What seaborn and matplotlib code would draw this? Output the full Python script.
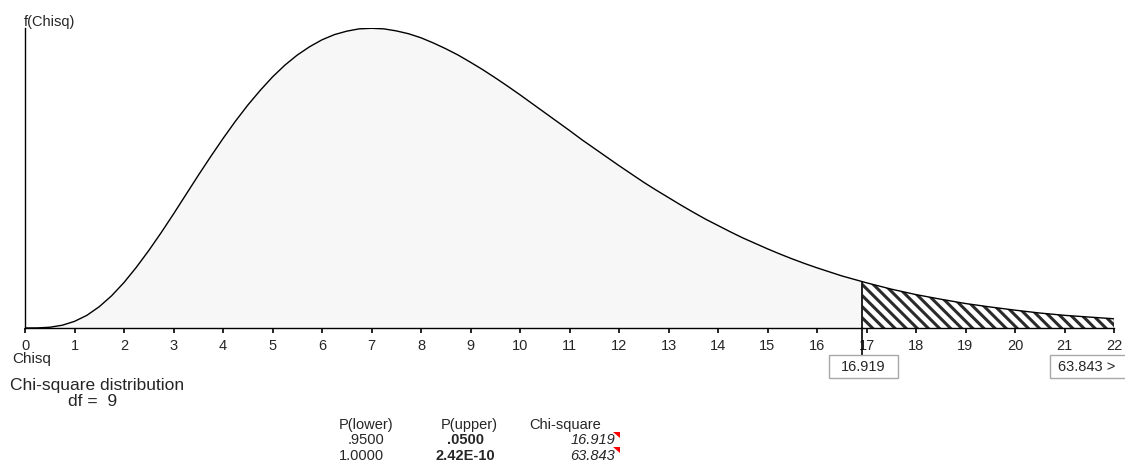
import matplotlib
matplotlib.use("Agg")
import matplotlib.pyplot as plt
import matplotlib.transforms as mtransforms
from matplotlib.patches import Polygon, Rectangle
import seaborn as sns
import pandas as pd

# chi-square curve (df = 9): every 0.25 up to 17, then every 0.5
chisq = [0.0, 0.25, 0.5, 0.75, 1.0, 1.25, 1.5, 1.75, 2.0, 2.25, 2.5, 2.75,
         3.0, 3.25, 3.5, 3.75, 4.0, 4.25, 4.5, 4.75, 5.0, 5.25, 5.5, 5.75,
         6.0, 6.25, 6.5, 6.75, 7.0, 7.25, 7.5, 7.75, 8.0, 8.25, 8.5, 8.75,
         9.0, 9.25, 9.5, 9.75, 10.0, 10.25, 10.5, 10.75, 11.0, 11.25, 11.5,
         11.75, 12.0, 12.25, 12.5, 12.75, 13.0, 13.25, 13.5, 13.75, 14.0,
         14.25, 14.5, 14.75, 15.0, 15.25, 15.5, 15.75, 16.0, 16.25, 16.5,
         16.75, 17.0, 17.5, 18.0, 18.5, 19.0, 19.5, 20.0, 20.5, 21.0, 21.5, 22.0]
density = [0.0, 0.00003, 0.00026, 0.00095, 0.0023, 0.0044, 0.0074, 0.0112,
           0.0158, 0.0211, 0.0269, 0.0331, 0.0396, 0.0463, 0.0530, 0.0595,
           0.0658, 0.0718, 0.0774, 0.0825, 0.0872, 0.0913, 0.0948, 0.0977,
           0.1001, 0.1019, 0.1031, 0.1039, 0.1041, 0.1039, 0.1032, 0.1022,
           0.1008, 0.0990, 0.0970, 0.0948, 0.0923, 0.0897, 0.0869, 0.0840,
           0.0810, 0.0779, 0.0748, 0.0717, 0.0686, 0.0654, 0.0624, 0.0594,
           0.0564, 0.0535, 0.0506, 0.0479, 0.0453, 0.0427, 0.0402, 0.0378,
           0.0356, 0.0334, 0.0313, 0.0294, 0.0275, 0.0257, 0.0240, 0.0224,
           0.0209, 0.0195, 0.0181, 0.0169, 0.0157, 0.0135, 0.0116, 0.0100,
           0.0085, 0.0073, 0.0062, 0.0052, 0.0044, 0.0038, 0.0032]

crit_value = 16.919
crit_density = 0.0160
df_value = 9

table_header = ["P(lower)", "P(upper)", "Chi-square"]
p_lower = [".9500", "1.0000"]
p_upper = [".0500", "2.42E-10"]
chi_vals = ["16.919", "63.843"]
box_labels = ["16.919", "63.843 >"]

sns.set_theme(style="ticks")
plt.rcParams["font.family"] = ["Liberation Sans", "DejaVu Sans"]
plt.rcParams["hatch.linewidth"] = 2.2
plt.rcParams["hatch.color"] = "#2b2b2b"

W, H = 1125, 464
fig = plt.figure(figsize=(11.25, 4.64), dpi=100)
fig.patch.set_facecolor("white")

# axes placed in pixel terms: x 25..1114, baseline y=329, top y=29
ax = fig.add_axes([25 / W, (H - 329) / H, (1114 - 25) / W, 300 / H])
ax.set_facecolor("white")

data = pd.DataFrame({"x": chisq, "y": density})
body = data[data.x <= crit_value]
tail = data[data.x >= crit_value]
body_x = list(body.x) + [crit_value]
body_y = list(body.y) + [crit_density]
tail_x = [crit_value] + list(tail.x)
tail_y = [crit_density] + list(tail.y)

ax.fill_between(body_x, body_y, 0, color="#f7f7f7", lw=0)
ax.fill_between(tail_x, tail_y, 0, facecolor="white", edgecolor="#2b2b2b",
                hatch="\\\\\\", lw=0)
sns.lineplot(data=data, x="x", y="y", color="black", lw=1.0, ax=ax)
ax.plot([tail_x[-1], tail_x[-1]], [0, tail_y[-1]], color="black", lw=1.0)

# critical value line, running down to its box
trans = mtransforms.blended_transform_factory(ax.transData, ax.transAxes)
ax.plot([crit_value, crit_value], [crit_density / 0.1042, -27 / 300],
        color="black", lw=1.2, transform=trans, clip_on=False)

ax.set_xlim(0, 22)
ax.set_ylim(0, 0.1042)
ax.set_xticks(range(0, 23))
ax.set_xticklabels([str(i) for i in range(0, 23)], fontsize=10.5)
ax.set_yticks([])
ax.set_xlabel("")
ax.set_ylabel("")
ax.tick_params(axis="x", direction="out", length=3.5, width=1.2, pad=3.5,
               color="black")
for side in ["top", "right"]:
    ax.spines[side].set_visible(False)
for side in ["left", "bottom"]:
    ax.spines[side].set_color("black")
    ax.spines[side].set_linewidth(1.0)


def px(x, y):
    return x / W, 1 - y / H


fig.text(*px(24, 22), "f(Chisq)", fontsize=10.5, ha="left", va="center")
fig.text(*px(12, 359), "Chisq", fontsize=11, ha="left", va="center")

# value boxes under the axis
for (x0, x1), lab in zip([(829, 898), (1050, 1140)], box_labels):
    fig.patches.append(Rectangle(px(x0, 379), (x1 - x0) / W, 23 / H,
                                 transform=fig.transFigure, fill=False,
                                 edgecolor="#a8a8a8", lw=1.0))
tx = [863.5, 1087]
for x, lab in zip(tx, box_labels):
    fig.text(*px(x, 367.5), lab, fontsize=10.5, ha="center", va="center")

fig.text(*px(10, 386), "Chi-square distribution", fontsize=12.5, ha="left",
         va="center")
fig.text(*px(68, 402), f"df =  {df_value}", fontsize=12.5, ha="left",
         va="center")

# probability table
fig.text(*px(339, 425), table_header[0], fontsize=10.5, ha="left", va="center")
fig.text(*px(469, 425), table_header[1], fontsize=10.5, ha="center", va="center")
fig.text(*px(529, 425), table_header[2], fontsize=10.5, ha="left", va="center")
for i, y in enumerate([440.5, 456]):
    fig.text(*px(384, y), p_lower[i], fontsize=10.5, ha="right", va="center")
    fig.text(*px(465, y), p_upper[i], fontsize=10.5, ha="center", va="center",
             fontweight="bold")
    fig.text(*px(615, y), chi_vals[i], fontsize=10.5, ha="right", va="center",
             style="italic")
    top = y - 8
    fig.patches.append(Polygon([px(613, top), px(620, top), px(620, top + 6)],
                               closed=True, transform=fig.transFigure,
                               color="red", lw=0))

fig.savefig("out.png", dpi=100)
